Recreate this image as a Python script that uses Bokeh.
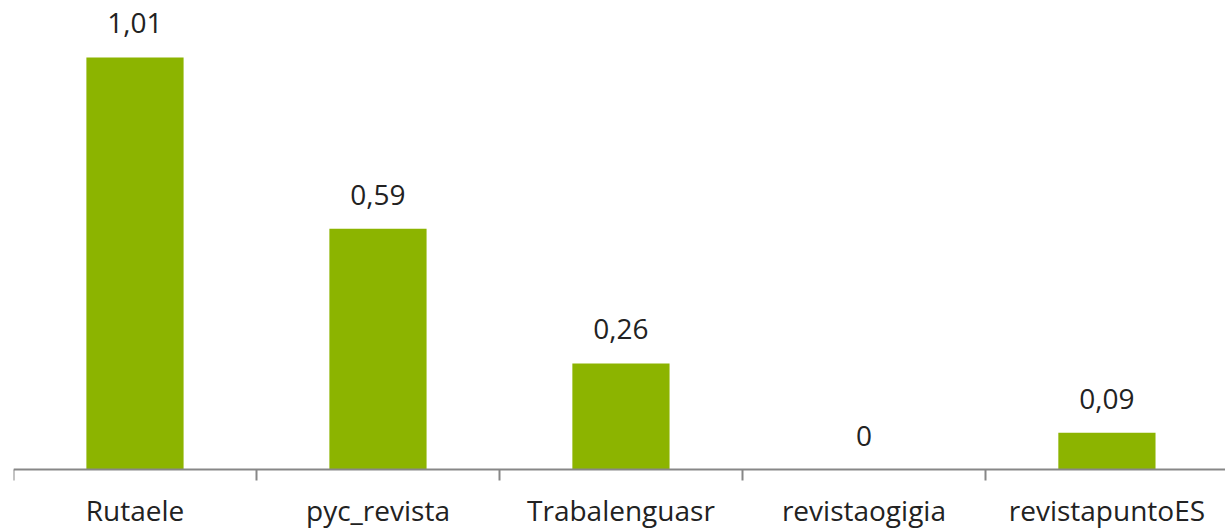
from bokeh.plotting import figure
from bokeh.models import Range1d, FixedTicker, ColumnDataSource
from bokeh.core.properties import value
from bokeh.embed import file_html
from bokeh.resources import INLINE

categories = ["Rutaele", "pyc_revista", "Trabalenguasr", "revistaogigia", "revistapuntoES"]
values = [1.01, 0.59, 0.26, 0.0, 0.09]

def fmt(v):
    return "0" if v == 0 else f"{v:.2f}".replace(".", ",")

centers = [i + 0.5 for i in range(len(categories))]
src = ColumnDataSource(dict(x=centers, top=values, lab=[fmt(v) for v in values]))

FONT = "Open Sans"
TXT = "#222222"
AX = "#878787"

p = figure(width=1225, height=528, output_backend="svg", toolbar_location=None,
           x_range=Range1d(0, 4.988), y_range=Range1d(-0.1446, 1.1495),
           min_border_left=13, min_border_right=0, min_border_top=0, min_border_bottom=0,
           y_axis_location=None, background_fill_color="white", border_fill_color="white")
p.outline_line_color = None
p.xgrid.visible = False
p.ygrid.visible = False

p.vbar(x="x", top="top", width=0.4, bottom=0, source=src, fill_color="#8CB400", line_color=None)
p.text(x="x", y="top", text="lab", source=src, text_align="center", text_baseline="alphabetic",
       y_offset=-34, text_font=value(FONT), text_font_size="28px", text_color=TXT)

ax = p.xaxis[0]
ax.fixed_location = 0
ax.ticker = FixedTicker(ticks=centers, minor_ticks=list(range(len(categories) + 1)))
ax.major_label_overrides = {c: n for c, n in zip(centers, categories)}
ax.axis_line_color = AX
ax.axis_line_width = 2
ax.major_tick_line_color = None
ax.major_tick_out = 0
ax.major_tick_in = 0
ax.minor_tick_line_color = AX
ax.minor_tick_line_width = 2
ax.minor_tick_out = 11
ax.minor_tick_in = 0
ax.major_label_standoff = 10
ax.major_label_text_font = FONT
ax.major_label_text_font_size = "28px"
ax.major_label_text_color = TXT

open("out.html", "w").write(file_html(p, INLINE))
